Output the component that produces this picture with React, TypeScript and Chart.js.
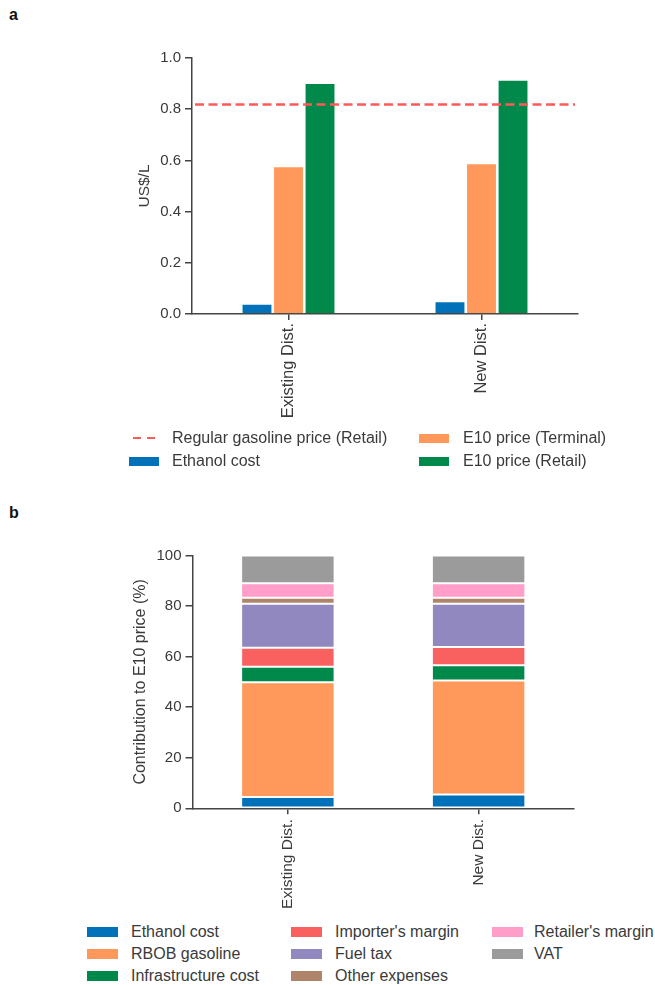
import React, { useEffect, useRef } from 'react';
import { Chart, registerables } from 'chart.js';

Chart.register(...registerables);

// ---------- data ----------
const categories = ['Existing Dist.', 'New Dist.'];

// Panel a (US$/L)
const ethanolCostA = [0.04, 0.05];
const e10Terminal = [0.577, 0.589];
const e10Retail = [0.902, 0.915];
const regularGasolinePrice = 0.818;
const yTicksA = [0, 0.2, 0.4, 0.6, 0.8, 1.0];

// Panel b (% contribution)
const ethanolShare = [4.5, 5.5];
const rbobShare = [45.4, 45.1];
const infraShare = [6.1, 6.0];
const importerShare = [7.5, 7.2];
const fuelTaxShare = [17.4, 17.1];
const otherShare = [2.4, 2.4];
const retailerShare = [5.7, 5.7];
const vatShare = [11.0, 11.0];
const yTicksB = [0, 20, 40, 60, 80, 100];

const legendA = ['Regular gasoline price (Retail)', 'E10 price (Terminal)', 'Ethanol cost', 'E10 price (Retail)'];
const componentNames = ['Ethanol cost', 'RBOB gasoline', 'Infrastructure cost', "Importer's margin", 'Fuel tax', 'Other expenses', "Retailer's margin", 'VAT'];

// ---------- styles ----------
const FONT = '"Liberation Sans", Arial, Helvetica, sans-serif';
const TEXT = '#3a3a3a';
const AXIS = '#444444';
const EDGE = 'rgba(255,255,255,0.75)';
const BLUE = '#0172b9';
const ORANGE = '#ff995b';
const GREEN = '#01894c';
const RED = '#f96161';
const PURPLE = '#9188c0';
const BROWN = '#b0846a';
const PINK = '#ff9ec8';
const GRAY = '#9b9b9b';
const DASH_RED = '#ff5a5a';

const componentColors = [BLUE, ORANGE, GREEN, RED, PURPLE, BROWN, PINK, GRAY];
const componentData = [ethanolShare, rbobShare, infraShare, importerShare, fuelTaxShare, otherShare, retailerShare, vatShare];

const refLinePlugin = {
  id: 'refLine',
  afterDatasetsDraw(chart: any, _args: any, opts: any) {
    if (opts == null || opts.value == null) return;
    const { ctx, chartArea, scales } = chart;
    const y = scales.y.getPixelForValue(opts.value);
    ctx.save();
    ctx.strokeStyle = opts.color || DASH_RED;
    ctx.lineWidth = 2.5;
    ctx.setLineDash([9, 4.5]);
    ctx.beginPath();
    ctx.moveTo(chartArea.left + 3, y);
    ctx.lineTo(chartArea.right - 3, y);
    ctx.stroke();
    ctx.restore();
  },
};

function axisCommon(tickLen: number) {
  return {
    grid: {
      display: true,
      drawOnChartArea: false,
      drawTicks: true,
      tickLength: tickLen,
      color: AXIS,
      tickColor: AXIS,
      lineWidth: 1.5,
      tickWidth: 1.5,
    },
    border: { display: true, color: AXIS, width: 1.5 },
  };
}

function App() {
  const refA = useRef<HTMLCanvasElement | null>(null);
  const refB = useRef<HTMLCanvasElement | null>(null);

  useEffect(() => {
    const chartA = new Chart(refA.current as HTMLCanvasElement, {
      type: 'bar',
      data: {
        labels: categories,
        datasets: [
          { label: 'Ethanol cost', data: ethanolCostA, backgroundColor: BLUE, borderColor: EDGE, borderWidth: 1 },
          { label: 'E10 price (Terminal)', data: e10Terminal, backgroundColor: ORANGE, borderColor: EDGE, borderWidth: 1 },
          { label: 'E10 price (Retail)', data: e10Retail, backgroundColor: GREEN, borderColor: EDGE, borderWidth: 1 },
        ],
      },
      options: {
        responsive: false,
        animation: false,
        devicePixelRatio: 1,
        layout: { padding: { left: 0, right: 77, top: 58, bottom: 0 } },
        datasets: { bar: { categoryPercentage: 0.49, barPercentage: 0.98 } },
        plugins: {
          legend: { display: false },
          tooltip: { enabled: false },
          refLine: { value: regularGasolinePrice, color: DASH_RED },
        } as any,
        scales: {
          x: {
            offset: true,
            ...axisCommon(6),
            grid: { ...axisCommon(6).grid, offset: false },
            ticks: {
              minRotation: 90,
              maxRotation: 90,
              autoSkip: false,
              padding: 3,
              color: TEXT,
              font: { family: FONT, size: 16.5 },
            },
            afterFit: (s: any) => { s.height = 116; },
          },
          y: {
            min: 0,
            max: 1,
            ...axisCommon(7),
            afterBuildTicks: (s: any) => { s.ticks = yTicksA.map((v) => ({ value: v })); },
            ticks: {
              padding: 4,
              color: TEXT,
              font: { family: FONT, size: 15 },
              callback: (v: any) => Number(v).toFixed(1),
            },
            title: {
              display: true,
              text: 'US$/L',
              color: TEXT,
              font: { family: FONT, size: 15.5, lineHeight: 1 },
              padding: { top: 137, bottom: 0 },
            },
            afterFit: (s: any) => { s.width = 192; },
          },
        },
      } as any,
      plugins: [refLinePlugin],
    });

    const chartB = new Chart(refB.current as HTMLCanvasElement, {
      type: 'bar',
      data: {
        labels: categories,
        datasets: componentNames.map((name, i) => ({
          label: name,
          data: componentData[i],
          backgroundColor: componentColors[i],
          borderColor: EDGE,
          borderWidth: 1,
          borderSkipped: false,
        })),
      },
      options: {
        responsive: false,
        animation: false,
        devicePixelRatio: 1,
        layout: { padding: { left: 0, right: 81, top: 35.5, bottom: 0 } },
        datasets: { bar: { categoryPercentage: 0.49, barPercentage: 1.0 } },
        plugins: { legend: { display: false }, tooltip: { enabled: false } },
        scales: {
          x: {
            stacked: true,
            offset: true,
            ...axisCommon(6),
            grid: { ...axisCommon(6).grid, offset: false },
            ticks: {
              minRotation: 90,
              maxRotation: 90,
              autoSkip: false,
              padding: 5,
              color: TEXT,
              font: { family: FONT, size: 15.5 },
            },
            afterFit: (s: any) => { s.height = 111.7; },
          },
          y: {
            stacked: true,
            min: 0,
            max: 100,
            ...axisCommon(7),
            afterBuildTicks: (s: any) => { s.ticks = yTicksB.map((v) => ({ value: v })); },
            ticks: {
              padding: 4,
              color: TEXT,
              font: { family: FONT, size: 15 },
            },
            title: {
              display: true,
              text: 'Contribution to E10 price (%)',
              color: TEXT,
              font: { family: FONT, size: 16, lineHeight: 1 },
              padding: { top: 133, bottom: 0 },
            },
            afterFit: (s: any) => { s.width = 192.5; },
          },
        },
      } as any,
    });

    return () => {
      chartA.destroy();
      chartB.destroy();
    };
  }, []);

  const legendTextStyle = (size: number): React.CSSProperties => ({
    position: 'absolute',
    fontFamily: FONT,
    fontSize: size,
    color: TEXT,
    whiteSpace: 'nowrap',
    lineHeight: '20px',
    height: 20,
  });

  const patch = (left: number, cy: number, w: number, h: number, color: string, key: string) => (
    <div key={key} style={{ position: 'absolute', left, top: cy - h / 2, width: w, height: h, background: color }} />
  );

  // Legend A layout (column-major, 2 columns)
  const aRows = [438, 461];
  const aCols = [{ mx: 129, tx: 172 }, { mx: 419, tx: 463 }];
  const legendAColors = [null, ORANGE, BLUE, GREEN];
  const legendAItems = legendA.map((label, i) => {
    const col = i % 2;
    const row = Math.floor(i / 2);
    const cy = aRows[row];
    const c = aCols[col];
    const color = legendAColors[i];
    return (
      <React.Fragment key={'la' + i}>
        {color
          ? patch(c.mx, cy, 30, 9, color, 'lap' + i)
          : (
            <>
              <div style={{ position: 'absolute', left: c.mx + 4, top: cy - 1.25, width: 7.5, height: 2.5, background: DASH_RED }} />
              <div style={{ position: 'absolute', left: c.mx + 18, top: cy - 1.25, width: 7.5, height: 2.5, background: DASH_RED }} />
            </>
          )}
        <div style={{ ...legendTextStyle(16), left: c.tx, top: cy - 10 }}>{label}</div>
      </React.Fragment>
    );
  });

  // Legend B layout (column-major, 3 columns of 3)
  const bRows = [932, 954, 976];
  const bCols = [{ mx: 87, tx: 131 }, { mx: 291, tx: 335 }, { mx: 492, tx: 534 }];
  const legendBItems = componentNames.map((name, i) => {
    const col = Math.floor(i / 3);
    const row = i % 3;
    const cy = bRows[row];
    const c = bCols[col];
    return (
      <React.Fragment key={'lb' + i}>
        {patch(c.mx, cy, 31, 10, componentColors[i], 'lbp' + i)}
        <div style={{ ...legendTextStyle(16), left: c.tx, top: cy - 10 }}>{name}</div>
      </React.Fragment>
    );
  });

  const panelLabel: React.CSSProperties = {
    position: 'absolute',
    fontFamily: FONT,
    fontWeight: 'bold',
    fontSize: 16,
    lineHeight: '16px',
    color: '#111',
  };

  return (
    <div style={{ position: 'absolute', left: 0, top: 0, width: 655, height: 985, background: '#fff', overflow: 'hidden' }}>
      <div style={{ ...panelLabel, left: 9, top: 7 }}>a</div>
      <canvas ref={refA} width={655} height={430} style={{ position: 'absolute', left: 0, top: 0, width: 655, height: 430 }} />
      {legendAItems}
      <div style={{ ...panelLabel, left: 9, top: 504.5 }}>b</div>
      <canvas ref={refB} width={655} height={400} style={{ position: 'absolute', left: 0, top: 520, width: 655, height: 400 }} />
      {legendBItems}
    </div>
  );
}

export default App;
